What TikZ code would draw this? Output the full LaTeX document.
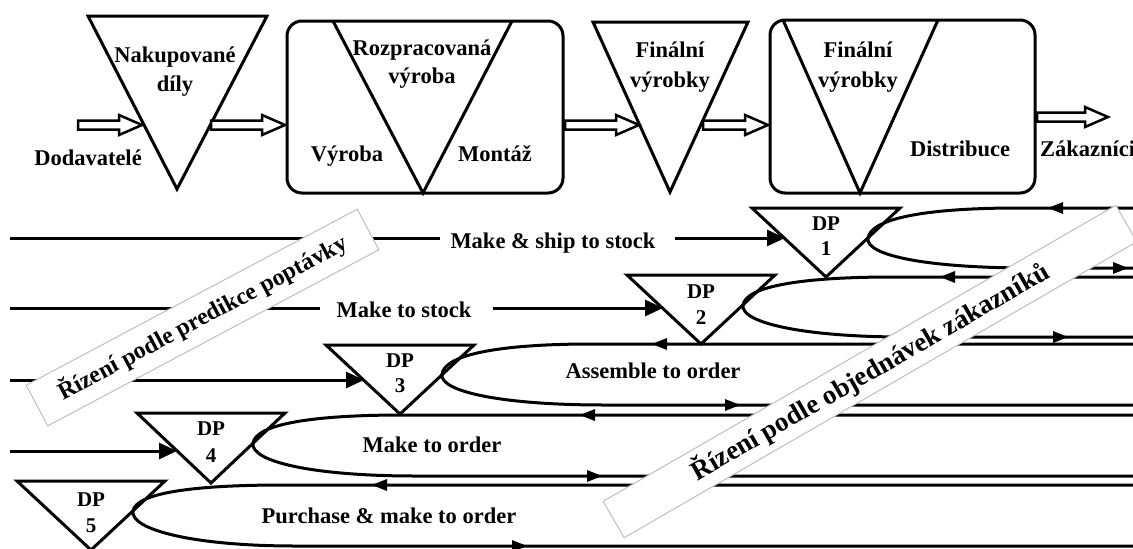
\documentclass[tikz,border=0pt]{standalone}
\usepackage{fontspec}
\setmainfont{Liberation Serif}
\usetikzlibrary{arrows.meta,calc}
\newcommand\hollowarr[2]{%
  \draw[hol] ($(#1)+(0,-4.5)$) -- ($(#2)+(-23,-4.5)$) -- ($(#2)+(-23,-10)$) -- (#2)
     -- ($(#2)+(-23,10)$) -- ($(#2)+(-23,4.5)$) -- ($(#1)+(0,4.5)$) -- cycle;}
\newcommand\tipL[2]{\fill (#1,#2) -- ++(15,-6) -- ++(0,12) -- cycle;}
\newcommand\tipR[2]{\fill (#1,#2) -- ++(-15,-6) -- ++(0,12) -- cycle;}
\begin{document}
\begin{tikzpicture}[x=1pt,y=-1pt,line join=miter,
  txt/.style={font=\bfseries\fontsize{22.5}{27}\selectfont,inner sep=0pt,anchor=base},
  dpt/.style={font=\bfseries\fontsize{21}{25}\selectfont,inner sep=0pt,anchor=base},
  ln/.style={line width=3pt},
  outl/.style={line width=3pt,line join=miter},
  boxst/.style={line width=3pt,rounded corners=15pt},
  hol/.style={line width=2.5pt,fill=white,line join=miter},
  inarr/.style={line width=3pt,-{Triangle[length=18pt,width=16pt]}},
  band/.style={draw=black!25,line width=1pt,fill=white,inner sep=0pt,
     font=\bfseries\fontsize{24}{28}\selectfont}
]
\useasboundingbox (0,0) rectangle (1133,549);

% ---------- top row ----------
\draw[outl] (88,16) -- (267,16) -- (177,189) -- cycle;
\node[txt] (nak1) at (175,62) {Nakupované};
\node[txt] (nak2) at (175,91) {díly};
\node[txt] (dod) at (88,165) {Dodavatelé};
\coordinate (a1s) at (78,125); \coordinate (a1e) at (142,125);
\hollowarr{a1s}{a1e}
\coordinate (a2s) at (211,125); \coordinate (a2e) at (285,125);
\hollowarr{a2s}{a2e}

\draw[boxst] (287,21) rectangle (563,193);
\draw[outl] (333,21) -- (423,193) -- (512,21);
\node[txt] (roz1) at (422,55) {Rozpracovaná};
\node[txt] (roz2) at (422,83) {výroba};
\node[txt] (vyr) at (347,161) {Výroba};
\node[txt] (mon) at (495,161) {Montáž};
\coordinate (a3s) at (565,125); \coordinate (a3e) at (639,125);
\hollowarr{a3s}{a3e}

\draw[outl] (593,22) -- (748,22) -- (670,192) -- cycle;
\node[txt] (fin1) at (670,57) {Finální};
\node[txt] (fin2) at (670,87) {výrobky};
\coordinate (a4s) at (703,125); \coordinate (a4e) at (768,125);
\hollowarr{a4s}{a4e}

\draw[boxst] (770,20) rectangle (1035,193);
\draw[outl] (783,20) -- (860,193) -- (938,20);
\node[txt] (fb1) at (858,57) {Finální};
\node[txt] (fb2) at (858,87) {výrobky};
\node[txt] (dis) at (960,156) {Distribuce};
\coordinate (a5s) at (1037,117); \coordinate (a5e) at (1108,117);
\hollowarr{a5s}{a5e}
\node[txt,anchor=base west] (zak) at (1040,156) {Zákazníci};

% ---------- row 1 ----------
\coordinate (r1s) at (10,238); \coordinate (r1e) at (440,238);
\draw[ln] (r1s) -- (r1e);
\node[txt] (mss) at (553,248) {Make \& ship to stock};
\coordinate (r1a) at (675,238); \coordinate (dp1in) at (785,238);
\draw[inarr] (r1a) -- (dp1in);
\coordinate (p1) at (868,238);
\draw[ln] (1140,208) -- (1018,208) .. controls (928,208) and (871,218) .. (p1)
  .. controls (865,256) and (930,268) .. (1030,268) -- (1140,268);
\tipL{1048}{208}\tipR{1128}{268}

% ---------- row 2 ----------
\coordinate (r2s) at (10,308); \coordinate (r2e) at (320,308);
\draw[ln] (r2s) -- (r2e);
\node[txt] (mts) at (404,317) {Make to stock};
\coordinate (r2a) at (493,308); \coordinate (dp2in) at (663,308);
\draw[inarr] (r2a) -- (dp2in);
\coordinate (p2) at (743,305);
\draw[ln] (1140,277) -- (893,277) .. controls (803,277) and (746,286) .. (p2)
  .. controls (740,323) and (805,337) .. (905,337) -- (1140,337);
\tipL{940}{277}\tipR{1068}{337}

% ---------- row 3 ----------
\coordinate (r3s) at (10,380); \coordinate (dp3in) at (364,380);
\draw[inarr] (r3s) -- (dp3in);
\coordinate (p3) at (442,374);
\draw[ln] (1140,344) -- (592,344) .. controls (502,344) and (445,354) .. (p3)
  .. controls (439,392) and (504,405) .. (604,405) -- (1140,405);
\tipL{652}{344}\tipR{740}{405}
\node[txt] (ato) at (653,378) {Assemble to order};

% ---------- row 4 ----------
\coordinate (r4s) at (10,451); \coordinate (dp4in) at (177,451);
\draw[inarr] (r4s) -- (dp4in);
\coordinate (p4) at (253,443);
\draw[ln] (1140,415) -- (403,415) .. controls (313,415) and (256,424) .. (p4)
  .. controls (250,462) and (315,476) .. (415,476) -- (1140,476);
\tipL{580}{415}\tipR{602}{476}
\node[txt] (mto) at (432,452) {Make to order};

% ---------- row 5 ----------
\coordinate (p5) at (133,511);
\draw[ln] (1140,485) -- (283,485) .. controls (193,485) and (136,493) .. (p5)
  .. controls (130,530) and (195,546) .. (295,546) -- (1140,546);
\tipL{372}{485}\tipR{527}{546}
\node[txt] (pmo) at (389,523) {Purchase \& make to order};

% ---------- DP triangles ----------
\draw[outl] (752,208) -- (900,208) -- (826,277) -- cycle;
\node[dpt] (dp1a) at (826,230) {DP};
\node[dpt] (dp1b) at (826,255) {1};
\draw[outl] (627,275) -- (775,275) -- (701,344) -- cycle;
\node[dpt] (dp2a) at (701,298) {DP};
\node[dpt] (dp2b) at (701,324) {2};
\draw[outl] (326,345) -- (474,345) -- (400,414) -- cycle;
\node[dpt] (dp3a) at (400,367) {DP};
\node[dpt] (dp3b) at (400,392) {3};
\draw[outl] (137,413) -- (285,413) -- (211,483) -- cycle;
\node[dpt] (dp4a) at (211,435) {DP};
\node[dpt] (dp4b) at (211,462) {4};
\draw[outl] (17,481) -- (165,481) -- (91,550) -- cycle;
\node[dpt] (dp5a) at (91,506) {DP};
\node[dpt] (dp5b) at (91,532) {5};

% ---------- rotated labels ----------
\node[band,minimum width=375pt,minimum height=46pt,rotate=28] (lab1) at (202.5,317.5)
  {Řízení podle predikce poptávky};
\node[band,font=\bfseries\fontsize{27}{30}\selectfont,minimum width=592pt,minimum height=42pt,rotate=30]
  (lab2) at (870,371.5) {Řízení podle objednávek zákazníků};
\end{tikzpicture}
\end{document}
